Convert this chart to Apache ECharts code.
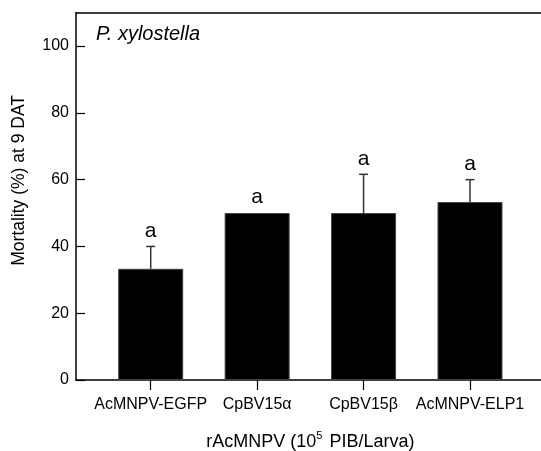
<!DOCTYPE html>
<html>
<head>
<meta charset="utf-8">
<script src="https://cdn.jsdelivr.net/npm/echarts@6/dist/echarts.min.js"></script>
<style>
  html, body { margin: 0; padding: 0; background: #fff; }
  #chart { width: 541px; height: 451px; }
</style>
</head>
<body>
<div id="chart"></div>
<script>
// Mortality of P. xylostella larvae 9 days after treatment
const treatments = ['AcMNPV-EGFP', 'CpBV15\u03b1', 'CpBV15\u03b2', 'AcMNPV-ELP1'];
const mortality = [33.3, 50, 50, 53.3];
const errUpper = [6.7, 0, 11.6, 6.7];
const letters = ['a', 'a', 'a', 'a'];
const yTicks = [0, 20, 40, 60, 80, 100];

const FONT = "'Liberation Sans', Arial, Helvetica, sans-serif";
const chart = echarts.init(document.getElementById('chart'), null, { renderer: 'canvas' });

const errData = treatments.map((t, i) => [i, mortality[i], errUpper[i], letters[i]]);

const option = {
  animation: false,
  backgroundColor: '#ffffff',
  textStyle: { fontFamily: FONT },
  title: {
    text: 'P. xylostella',
    left: 96,
    top: 24,
    padding: 0,
    textStyle: { fontFamily: FONT, fontSize: 20, fontStyle: 'italic', fontWeight: 'normal', color: '#000' }
  },
  grid: [
    // frame: y axis, baseline and top rule
    { left: 76, right: 0, top: 12.7, bottom: 71, containLabel: false, outerBoundsMode: 'none' },
    // bars
    { left: 97.5, right: 17.8, top: 12.7, bottom: 71, containLabel: false, outerBoundsMode: 'none' }
  ],
  xAxis: [
    {
      type: 'value', gridIndex: 0, position: 'bottom', min: 0, max: 1,
      axisLine: { show: true, lineStyle: { color: '#000', width: 1.5 } },
      axisTick: { show: false }, axisLabel: { show: false }, splitLine: { show: false }
    },
    {
      type: 'value', gridIndex: 0, position: 'top', min: 0, max: 1,
      axisLine: { show: true, lineStyle: { color: '#000', width: 1.5 } },
      axisTick: { show: false }, axisLabel: { show: false }, splitLine: { show: false }
    },
    {
      type: 'category', gridIndex: 1, data: treatments, position: 'bottom',
      axisLine: { show: false },
      axisTick: { show: true, alignWithLabel: true, length: 10, lineStyle: { color: '#000', width: 1.2 } },
      axisLabel: { color: '#000', fontSize: 16, fontFamily: FONT, margin: 17, interval: 0 },
      name: '{b|rAcMNPV (10}{s|5}{b| PIB/Larva)}',
      nameLocation: 'middle',
      nameGap: 50,
      nameTextStyle: {
        rich: {
          b: { fontSize: 18, fontFamily: FONT, color: '#000', verticalAlign: 'bottom', lineHeight: 21 },
          s: { fontSize: 11, fontFamily: FONT, color: '#000', verticalAlign: 'top', lineHeight: 21, padding: [0, 2, 7, 0] }
        }
      }
    }
  ],
  yAxis: [
    {
      type: 'value', gridIndex: 0, min: 0, max: 110, interval: 20,
      axisLine: { show: true, lineStyle: { color: '#000', width: 1.5 } },
      axisTick: { show: true, inside: true, length: 9, lineStyle: { color: '#000', width: 1.2 } },
      axisLabel: {
        color: '#000', fontSize: 16, fontFamily: FONT, margin: 7, showMaxLabel: false,
        formatter: v => (yTicks.indexOf(v) >= 0 ? String(v) : '')
      },
      splitLine: { show: false },
      name: 'Mortality (%) at 9 DAT',
      nameLocation: 'middle',
      nameGap: 48,
      nameTextStyle: { fontSize: 17.5, fontFamily: FONT, color: '#000', padding: [0, 0, 0, 32] }
    },
    {
      type: 'value', gridIndex: 1, min: 0, max: 110, interval: 20, show: false
    }
  ],
  series: [
    {
      type: 'bar',
      xAxisIndex: 2,
      yAxisIndex: 1,
      data: mortality,
      barWidth: 65,
      itemStyle: { color: '#000', borderColor: '#444', borderWidth: 1 }
    },
    {
      type: 'custom',
      xAxisIndex: 2,
      yAxisIndex: 1,
      data: errData,
      z: 5,
      renderItem: function (params, api) {
        const i = api.value(0);
        const mean = api.value(1);
        const err = api.value(2);
        const base = api.coord([i, mean]);
        const top = api.coord([i, mean + err]);
        const children = [];
        if (err > 0) {
          children.push({
            type: 'line',
            shape: { x1: top[0], y1: base[1], x2: top[0], y2: top[1] },
            style: { stroke: '#333', lineWidth: 1.5 }
          });
          children.push({
            type: 'line',
            shape: { x1: top[0] - 4.5, y1: top[1], x2: top[0] + 4.5, y2: top[1] },
            style: { stroke: '#333', lineWidth: 1.5 }
          });
        }
        children.push({
          type: 'text',
          x: top[0],
          y: top[1] - 5,
          style: {
            text: letters[params.dataIndex],
            fontSize: 21,
            fontFamily: FONT,
            fill: '#000',
            align: 'center',
            verticalAlign: 'bottom'
          }
        });
        return { type: 'group', children: children };
      }
    }
  ]
};

chart.setOption(option);
</script>
</body>
</html>
